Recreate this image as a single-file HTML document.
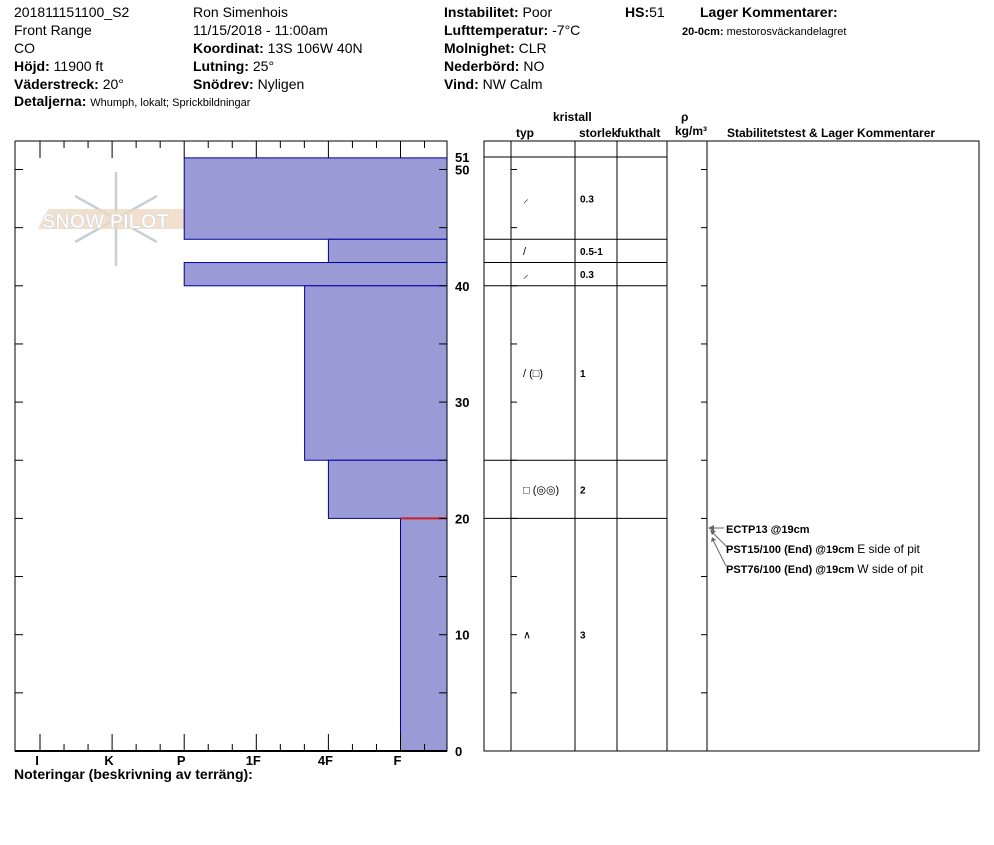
<!DOCTYPE html>
<html><head><meta charset="utf-8"><style>
body{margin:0;background:#fff;}
svg text{font-family:"Liberation Sans",sans-serif;}
</style></head><body>
<svg id="root" width="994" height="840" viewBox="0 0 994 840" xmlns="http://www.w3.org/2000/svg">
<g font-size="14" fill="#000">
<text x="14" y="17">201811151100_S2</text>
<text x="14" y="35">Front Range</text>
<text x="14" y="53">CO</text>
<text x="14" y="71"><tspan font-weight="bold">Höjd:</tspan> 11900 ft</text>
<text x="14" y="89"><tspan font-weight="bold">Väderstreck:</tspan> 20°</text>
<text x="14" y="106"><tspan font-weight="bold">Detaljerna:</tspan> <tspan font-size="11">Whumph, lokalt; Sprickbildningar</tspan></text>
<text x="193" y="17">Ron Simenhois</text>
<text x="193" y="35">11/15/2018 - 11:00am</text>
<text x="193" y="53"><tspan font-weight="bold">Koordinat:</tspan> 13S 106W 40N</text>
<text x="193" y="71"><tspan font-weight="bold">Lutning:</tspan> 25°</text>
<text x="193" y="89"><tspan font-weight="bold">Snödrev:</tspan> Nyligen</text>
<text x="444" y="17"><tspan font-weight="bold">Instabilitet:</tspan> Poor</text>
<text x="444" y="35"><tspan font-weight="bold">Lufttemperatur:</tspan> -7°C</text>
<text x="444" y="53"><tspan font-weight="bold">Molnighet:</tspan> CLR</text>
<text x="444" y="71"><tspan font-weight="bold">Nederbörd:</tspan> NO</text>
<text x="444" y="89"><tspan font-weight="bold">Vind:</tspan>  NW Calm</text>
<text x="625" y="17"><tspan font-weight="bold">HS:</tspan>51</text>
<text x="700" y="17" font-weight="bold">Lager Kommentarer:</text>
<text x="682" y="35" font-size="11"><tspan font-weight="bold">20-0cm:</tspan> mestorosväckandelagret</text>
</g>
<g opacity="0.8">
<g stroke="#b8c4cc" stroke-width="2.5" fill="none">
<line x1="116" y1="172" x2="116" y2="266"/>
<line x1="75" y1="196" x2="157" y2="242"/>
<line x1="75" y1="242" x2="157" y2="196"/>
</g>
<polygon points="38,229 193,229 193,209 48,209" fill="#eccfb4" opacity="0.8"/>
<text x="42" y="228" font-size="20" fill="#fff" stroke="#c9c9c9" stroke-width="0.6" font-weight="bold">SNOW PILOT</text>
</g>
<g id="chart"></g>
<g id="table"></g>
<g font-size="12" font-weight="bold">
<text x="553" y="121">kristall</text>
<text x="516" y="137">typ</text>
<text x="579" y="137">storlek</text>
<text x="617" y="137" fill="#000">fukthalt</text>
<text x="681" y="121">ρ</text>
<text x="675" y="135">kg/m³</text>
<text x="727" y="137">Stabilitetstest &amp; Lager Kommentarer</text>
</g>
<g font-size="11">
<g stroke="#666" fill="none"><line x1="710" y1="528" x2="724" y2="528"/><path d="M712,532 L727,547"/><path d="M713,540 L726,566"/></g>
<g fill="#666"><polygon points="708,528 714,525 714,531"/><polygon points="710,530 716,531 712,535"/><polygon points="712,537 716,540 711,542"/></g>
<text x="726" y="533" font-weight="bold">ECTP13 @19cm</text>
<text x="726" y="553"><tspan font-weight="bold">PST15/100 (End) @19cm</tspan>  <tspan font-size="12">E side of pit</tspan></text>
<text x="726" y="573"><tspan font-weight="bold">PST76/100 (End) @19cm</tspan>  <tspan font-size="12">W side of pit</tspan></text>
</g>
<text x="14" y="779" font-size="14" font-weight="bold">Noteringar (beskrivning av terräng):</text>
</svg>
<script>
var layerTops=[51,44,42,40,25,20];
var layerBottoms=[44,42,40,25,20,0];
var layerHardness=[2,4,2,3.67,4,5];
var hardnessLabels=['I','K','P','1F','4F','F'];
var depthTicks=[0,10,20,30,40,50];
var crystalSizes=['0.3','0.5-1','0.3','1','2','3'];
var crystalTypes=['⸝','/','⸝','/ (□)','□ (◎◎)','∧'];
var HS=51;
(function(){
var NS='http://www.w3.org/2000/svg';
function yd(d){return 751-d*11.63;}
function xh(h){return 40+h*72.1;}
function mk(p,t,a){var e=document.createElementNS(NS,t);for(var k in a)e.setAttribute(k,a[k]);p.appendChild(e);return e;}
var c=document.getElementById('chart');
for(var i=0;i<layerTops.length;i++){
 var r=mk(c,'rect',{x:xh(layerHardness[i]),y:yd(layerTops[i]),width:447-xh(layerHardness[i]),height:yd(layerBottoms[i])-yd(layerTops[i]),fill:'#9a9ad6',stroke:'#0000a0','stroke-width':1});
 
 
}
var rl=mk(c,'line',{x1:xh(5),x2:447,y1:yd(20),y2:yd(20),stroke:'#d02020','stroke-width':2});


mk(c,'polyline',{points:'15,141 15,751 447,751 447,141 15,141',fill:'none',stroke:'#000','stroke-width':1});
mk(c,'line',{x1:15,x2:447,y1:751,y2:751,stroke:'#000','stroke-width':2});
for(var k=0;k<=17;k++){
 var h=-1/3+k/3, xx=xh(h); if(xx<16||xx>446)continue;
 var major=Math.abs(h-Math.round(h))<0.01;
 var L=major?17:7;
 mk(c,'line',{x1:xx,x2:xx,y1:141,y2:141+L,stroke:'#000'});
 mk(c,'line',{x1:xx,x2:xx,y1:751,y2:751-L,stroke:'#000'});
}
hardnessLabels.forEach(function(s,i){var t=mk(c,'text',{x:xh(i)-3,y:765,'font-size':13,'font-weight':'bold','text-anchor':'middle'});t.textContent=s;
 
 });
for(var d=0;d<=50;d+=5){var yy=yd(d);
 mk(c,'line',{x1:15,x2:23,y1:yy,y2:yy,stroke:'#000'});
 mk(c,'line',{x1:439,x2:447,y1:yy,y2:yy,stroke:'#000'});}
depthTicks.forEach(function(d){var t=mk(c,'text',{x:455,y:yd(d)+5,'font-size':13,'font-weight':'bold'});t.textContent=d;
 
 });
var th=mk(c,'text',{x:455,y:yd(HS)+4,'font-size':13,'font-weight':'bold'});th.textContent=HS;


var tb=document.getElementById('table');
mk(tb,'rect',{x:484,y:141,width:495,height:610,fill:'none',stroke:'#000'});
[511,575,617,667,707].forEach(function(cx){mk(tb,'line',{x1:cx,x2:cx,y1:141,y2:751,stroke:'#000'});});
var hl=[157].concat(layerBottoms.slice(0,-1).map(yd));
hl.forEach(function(yy){mk(tb,'line',{x1:484,x2:667,y1:yy,y2:yy,stroke:'#000'});});
for(var d2=0;d2<=50;d2+=5){var y2=yd(d2);
 mk(tb,'line',{x1:511,x2:517,y1:y2,y2:y2,stroke:'#000'});
 mk(tb,'line',{x1:701,x2:707,y1:y2,y2:y2,stroke:'#000'});}
for(var j=0;j<layerTops.length;j++){
 var my=(yd(layerTops[j])+yd(layerBottoms[j]))/2+4;
 var a=mk(tb,'text',{x:580,y:my,'font-size':10,'font-weight':'bold'});a.textContent=crystalSizes[j];
 
 
 var b=mk(tb,'text',{x:523,y:my,'font-size':11});b.textContent=crystalTypes[j];
 
 
}
})();
</script>
</body></html>
